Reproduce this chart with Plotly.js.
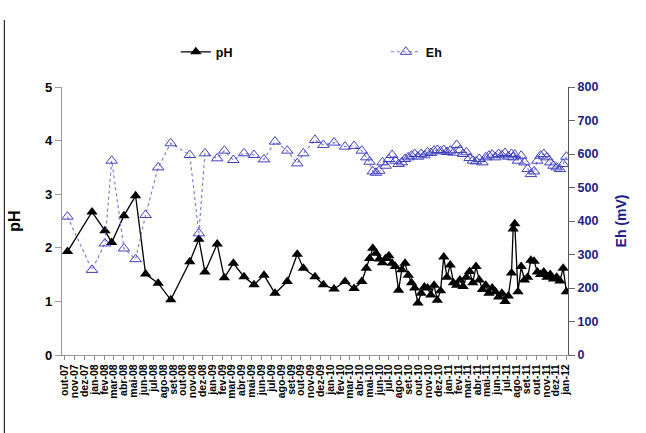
<!DOCTYPE html>
<html>
<head>
<meta charset="utf-8">
<script src="https://cdn.plot.ly/plotly-3.0.1.min.js"></script>
<style>
html,body{margin:0;padding:0;background:#fff;}
#chart{width:646px;height:433px;}
</style>
</head>
<body>
<div id="chart"></div>
<script>
const sampleDates = [
'2007-10-09','2007-12-24','2008-02-02','2008-02-23','2008-04-01','2008-05-07','2008-06-07','2008-07-16',
'2008-08-24','2008-10-22','2008-11-19','2008-12-08','2009-01-15','2009-02-06','2009-03-06','2009-04-08',
'2009-05-09','2009-06-09','2009-07-13','2009-08-20','2009-09-20','2009-10-09','2009-11-14','2009-12-10',
'2010-01-12','2010-02-15','2010-03-15','2010-04-08',
'2010-04-22','2010-05-02','2010-05-12','2010-05-22','2010-06-01','2010-06-11','2010-06-21','2010-07-01',
'2010-07-11','2010-07-21','2010-07-31','2010-08-10','2010-08-20','2010-08-30','2010-09-09','2010-09-19',
'2010-09-29','2010-10-09','2010-10-19','2010-10-29','2010-11-08','2010-11-18','2010-11-28','2010-12-08',
'2010-12-18','2010-12-28','2011-01-07','2011-01-17','2011-01-27','2011-02-06','2011-02-16','2011-02-26',
'2011-03-08','2011-03-18','2011-03-28','2011-04-07','2011-04-17','2011-04-27','2011-05-07','2011-05-17',
'2011-05-27','2011-06-06','2011-06-16','2011-06-26','2011-07-06','2011-07-16','2011-07-21','2011-07-26',
'2011-08-05','2011-08-15','2011-08-25','2011-09-04','2011-09-14','2011-09-24','2011-10-04','2011-10-14',
'2011-10-24','2011-11-03','2011-11-13','2011-11-23','2011-12-03','2011-12-13','2011-12-23','2012-01-02'
];
const pH = [
1.93,2.67,2.32,2.10,2.60,2.97,1.51,1.34,1.03,1.74,2.16,1.55,2.07,1.44,1.71,1.46,
1.31,1.49,1.15,1.37,1.88,1.62,1.46,1.31,1.23,1.37,1.24,1.37,
1.62,1.80,1.99,1.90,1.79,1.72,1.80,1.85,1.71,1.65,1.21,1.59,1.71,1.49,1.35,1.25,
0.97,1.15,1.27,1.25,1.12,1.30,1.02,1.20,1.83,1.45,1.68,1.35,1.30,1.40,1.28,1.45,
1.56,1.35,1.65,1.40,1.22,1.30,1.15,1.25,1.18,1.08,1.15,1.00,1.10,1.53,2.35,2.45,
1.18,1.65,1.40,1.45,1.77,1.75,1.55,1.50,1.55,1.45,1.50,1.42,1.45,1.38,1.62,1.18
];
const Eh = [
413,254,333,580,318,286,418,560,632,597,363,602,587,610,582,602,
597,584,637,610,572,602,642,627,634,622,624,610,
590,577,548,544,550,575,565,585,597,580,570,575,585,590,595,600,
592,600,596,605,603,610,612,608,612,606,610,604,627,612,600,605,
588,580,578,585,575,590,595,598,590,600,596,603,592,600,590,598,
580,595,575,555,540,548,580,595,600,590,575,565,560,555,570,592
];
const monthTicks = [
'2007-10-01','2007-11-01','2007-12-01','2008-01-01','2008-02-01','2008-03-01','2008-04-01','2008-05-01',
'2008-06-01','2008-07-01','2008-08-01','2008-09-01','2008-10-01','2008-11-01','2008-12-01','2009-01-01',
'2009-02-01','2009-03-01','2009-04-01','2009-05-01','2009-06-01','2009-07-01','2009-08-01','2009-09-01',
'2009-10-01','2009-11-01','2009-12-01','2010-01-01','2010-02-01','2010-03-01','2010-04-01','2010-05-01',
'2010-06-01','2010-07-01','2010-08-01','2010-09-01','2010-10-01','2010-11-01','2010-12-01','2011-01-01',
'2011-02-01','2011-03-01','2011-04-01','2011-05-01','2011-06-01','2011-07-01','2011-08-01','2011-09-01',
'2011-10-01','2011-11-01','2011-12-01','2012-01-01'
];
const monthLabels = [
'out-07','nov-07','dez-07','jan-08','fev-08','mar-08','abr-08','mai-08','jun-08','jul-08','ago-08','set-08',
'out-08','nov-08','dez-08','jan-09','fev-09','mar-09','abr-09','mai-09','jun-09','jul-09','ago-09','set-09',
'out-09','nov-09','dez-09','jan-10','fev-10','mar-10','abr-10','mai-10','jun-10','jul-10','ago-10','set-10',
'out-10','nov-10','dez-10','jan-11','fev-11','mar-11','abr-11','mai-11','jun-11','jul-11','ago-11','set-11',
'out-11','nov-11','dez-11','jan-12'
];

const FONT = 'Liberation Sans, Arial, Helvetica, sans-serif';
const NAVY = '#1c1c84';

const traces = [
  {
    x: sampleDates, y: pH, name: 'pH', type: 'scatter', mode: 'lines+markers',
    line: {color: '#000000', width: 1.3},
    marker: {symbol: 'triangle-up', size: 10, color: '#000000'},
    yaxis: 'y'
  },
  {
    x: sampleDates, y: Eh, name: 'Eh', type: 'scatter', mode: 'lines+markers',
    line: {color: '#7474d4', width: 1.1, dash: 'dot'},
    marker: {symbol: 'triangle-up-open', size: 10, color: '#4040c0', line: {width: 1}},
    yaxis: 'y2'
  }
];

const layout = {
  width: 646, height: 433,
  margin: {l: 62, r: 78, t: 87, b: 78},
  paper_bgcolor: '#ffffff', plot_bgcolor: '#ffffff',
  font: {family: FONT, color: '#000', size: 12, weight: 'bold'},
  showlegend: true,
  legend: {
    orientation: 'h', x: 0.225, xanchor: 'left', y: 1.13, yanchor: 'middle',
    font: {family: FONT, size: 12.5, color: '#000', weight: 'bold'},
    entrywidth: 165, entrywidthmode: 'pixels', bgcolor: 'rgba(0,0,0,0)'
  },
  xaxis: {
    type: 'date', range: ['2007-09-22', '2012-01-07'],
    tickmode: 'array', tickvals: monthTicks, ticktext: monthLabels,
    tickangle: -90, tickfont: {family: FONT, size: 10.5, color: '#000', weight: 'bold'},
    ticks: 'outside', ticklen: 4, tickcolor: '#888',
    showline: true, linecolor: '#999', linewidth: 1.2, showgrid: false, zeroline: false, mirror: false
  },
  yaxis: {
    range: [0, 5], tickvals: [0, 1, 2, 3, 4, 5],
    tickfont: {family: FONT, size: 13, color: '#000', weight: 'bold'},
    ticks: 'outside', ticklen: 6, tickcolor: '#999',
    showline: true, linecolor: '#999', linewidth: 1.2, showgrid: false, zeroline: false,
    title: {text: 'pH', font: {family: FONT, size: 16, color: '#000', weight: 'bold'}, standoff: 20}
  },
  yaxis2: {
    range: [0, 800], tickvals: [0, 100, 200, 300, 400, 500, 600, 700, 800],
    overlaying: 'y', side: 'right',
    tickfont: {family: FONT, size: 12.5, color: NAVY, weight: 'bold'},
    ticks: 'outside', ticklen: 6, tickcolor: '#666',
    showline: true, linecolor: '#555', linewidth: 1, showgrid: false, zeroline: false,
    title: {text: 'Eh (mV)', font: {family: FONT, size: 14, color: NAVY, weight: 'bold'}, standoff: 18}
  },
  shapes: [
    {type: 'line', xref: 'paper', yref: 'paper', x0: -0.114, x1: -0.114, y0: -0.3, y1: 1.25,
     line: {color: '#000', width: 1}}
  ]
};

Plotly.newPlot('chart', traces, layout, {displayModeBar: false, staticPlot: true});
</script>
</body>
</html>
